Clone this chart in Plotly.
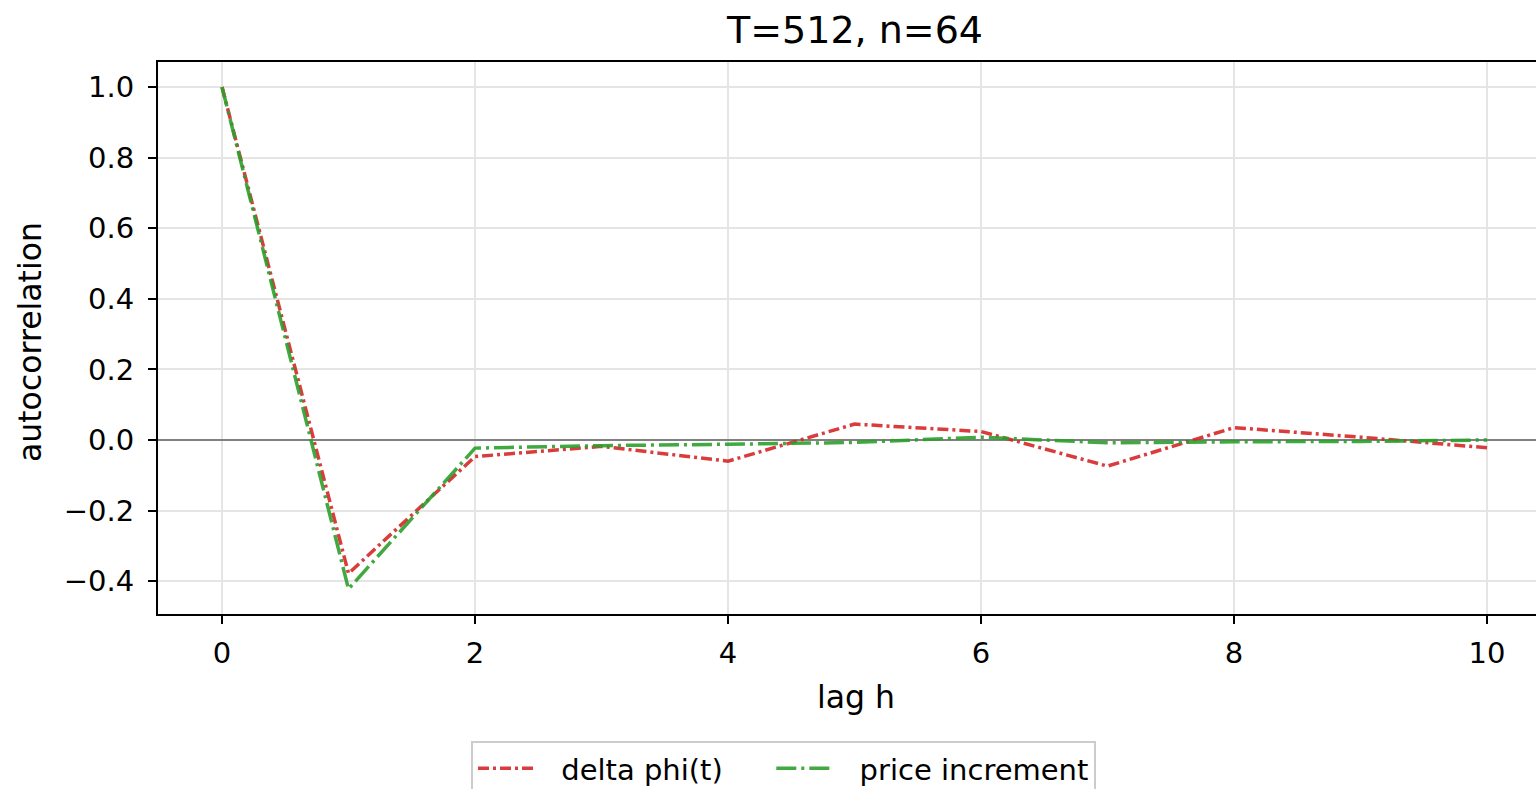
import plotly.graph_objects as go

lags = [0, 1, 2, 3, 4, 5, 6, 7, 8, 9, 10]
delta_phi = [1.0, -0.378, -0.047, -0.018, -0.060, 0.045, 0.024, -0.074, 0.035, 0.008, -0.022]
price_inc = [1.0, -0.422, -0.023, -0.016, -0.012, -0.007, 0.008, -0.008, -0.005, -0.004, 0.0]
x_ticks = [0, 2, 4, 6, 8, 10]
y_ticks = [-0.4, -0.2, 0.0, 0.2, 0.4, 0.6, 0.8, 1.0]
series_names = ["delta phi(t)", "price increment"]

FONT = "DejaVu Sans"
W, H = 1536, 789
L, R, T, B = 158, 0, 62, 175
PW = W - L - R
PRE = "\u2002\u2009"

fig = go.Figure()
fig.add_trace(go.Scatter(x=lags, y=delta_phi, mode="lines", name=PRE + series_names[0] + "\u2003\u2002",
                         line=dict(color="#d62728", width=3.5, dash="11px,4px,3px,4px"),
                         opacity=0.9))
fig.add_trace(go.Scatter(x=lags, y=price_inc, mode="lines", name=PRE + series_names[1],
                         line=dict(color="#2ca02c", width=3.5, dash="20px,5px,3px,5px"),
                         opacity=0.9))

fig.update_layout(
    width=W, height=H,
    margin=dict(l=L, r=R, t=T, b=B, pad=0),
    paper_bgcolor="white", plot_bgcolor="white",
    font=dict(family=FONT, size=29, color="black"),
    title=dict(text="T=512, n=64", x=(855 - L) / PW, xref="paper", xanchor="center",
               y=1 - 30 / H, yref="container", yanchor="middle",
               font=dict(family=FONT, size=38, color="black")),
    showlegend=True,
    legend=dict(orientation="h", x=471 / W, xref="container", xanchor="left",
                y=1 - 741 / H, yref="container", yanchor="top",
                bordercolor="#cccccc", borderwidth=2, bgcolor="white",
                font=dict(family=FONT, size=29, color="black"),
                itemwidth=58, tracegroupgap=0),
    annotations=[
        dict(text="lag h", x=(856 - L) / PW, xref="paper", xanchor="center",
             y=(H - B - 697) / (H - T - B), yref="paper", yanchor="middle",
             showarrow=False, font=dict(family=FONT, size=31.5, color="black")),
        dict(text="autocorrelation", x=(30 - L) / PW, xref="paper", xanchor="center",
             y=(H - B - 342) / (H - T - B), yref="paper", yanchor="middle", textangle=-90,
             showarrow=False, font=dict(family=FONT, size=31.5, color="black")),
    ],
)

fig.update_xaxes(
    range=[-0.506, 10.387], tickvals=x_ticks, ticktext=[str(v) for v in x_ticks],
    showgrid=True, gridcolor="#e5e5e5", gridwidth=2,
    showline=True, linecolor="black", linewidth=2, mirror=True,
    ticks="outside", ticklen=8, tickwidth=2, tickcolor="black",
    zeroline=False, ticklabelstandoff=4,
    tickfont=dict(family=FONT, size=29),
)
fig.update_yaxes(
    range=[-0.4929, 1.0707], tickvals=y_ticks, tickformat=".1f",
    showgrid=True, gridcolor="#e5e5e5", gridwidth=2,
    showline=True, linecolor="black", linewidth=2, mirror=False,
    ticks="outside", ticklen=8, tickwidth=2, tickcolor="black",
    zeroline=True, zerolinecolor="#808080", zerolinewidth=2,
    ticklabelstandoff=8,
    tickfont=dict(family=FONT, size=29),
)

fig.write_html("out.html")
